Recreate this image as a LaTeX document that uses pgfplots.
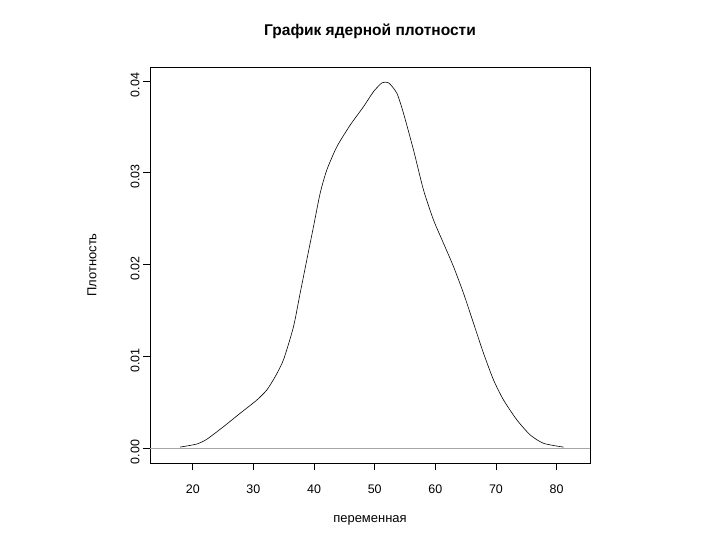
\documentclass[border=0pt]{standalone}
\usepackage{fontspec}
\setmainfont{Liberation Sans}
\usepackage{pgfplots}
\pgfplotsset{compat=1.18}
\begin{document}
\begin{tikzpicture}
\useasboundingbox (0,0) rectangle (720bp,540bp);
\begin{axis}[
  at={(150bp,77bp)}, anchor=south west,
  width=440bp, height=396bp, scale only axis,
  xmin=12.95, xmax=85.5,
  ymin=-0.00163, ymax=0.04153,
  xtick={20,30,40,50,60,70,80},
  ytick={0,0.01,0.02,0.03,0.04},
  xtick pos=left, ytick pos=left,
  tick align=outside,
  major tick length=7bp,
  axis line style={line width=0.8pt},
  every tick/.style={black, line width=0.6pt},
  /pgf/number format/assume math mode=true,
  yticklabel={\pgfmathprintnumber[fixed,fixed zerofill,precision=2]{\tick}},
  scaled y ticks=false,
  tick label style={font=\fontsize{12.5}{14}\selectfont},
  xticklabel style={yshift=-11bp},
  yticklabel style={rotate=90, anchor=south, xshift=-4bp},
  title={График ядерной плотности},
  title style={at={(axis description cs:0.5,1.0758)}, anchor=center, font=\fontsize{15.6}{18}\selectfont\bfseries},
  xlabel={переменная},
  xlabel style={at={(axis description cs:0.5,-0.144)}, anchor=center, font=\fontsize{13}{15}\selectfont},
  ylabel={Плотность},
  ylabel style={at={(axis description cs:-0.132,0.5)}, anchor=center, rotate=0, font=\fontsize{13}{15}\selectfont},
]
\addplot[gray!70, line width=0.7pt, forget plot] coordinates {(12.95,0) (85.5,0)};
\addplot[black, line width=0.6pt, smooth, tension=0.4] coordinates {
(17.9,0.0001) (20.66,0.00044) (22.3,0.00095) (25.05,0.00232) (27.8,0.00378)
(30.56,0.00523) (32.2,0.00632) (33.58,0.00777) (34.95,0.0096) (36.6,0.0132)
(37.7,0.01686) (38.8,0.0205) (39.9,0.0241) (41.0,0.02776) (42.1,0.0303)
(43.76,0.03284) (45.96,0.0352) (48.15,0.0372) (49.8,0.03884) (51.2,0.0398)
(52.3,0.0398) (53.66,0.03866) (54.75,0.03648) (56.4,0.03248) (58.05,0.02812)
(59.7,0.02485) (61.35,0.02231) (63.0,0.01976) (64.65,0.01686) (66.3,0.01359)
(67.95,0.01032) (69.6,0.00741) (71.25,0.00523) (73.46,0.00305) (75.66,0.00142)
(77.86,0.00051) (81.15,0.0001)
};
\end{axis}
\end{tikzpicture}
\end{document}
